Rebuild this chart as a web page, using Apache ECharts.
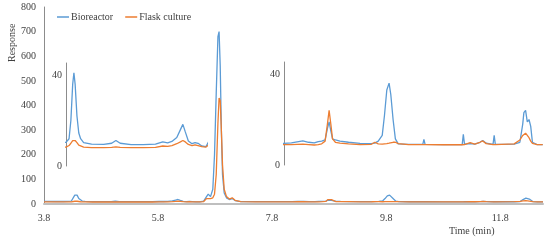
<!DOCTYPE html>
<html>
<head>
<meta charset="utf-8">
<script src="https://cdn.jsdelivr.net/npm/echarts@6/dist/echarts.min.js"></script>
<style>html,body{margin:0;padding:0;background:#fff}#c{width:550px;height:240px}</style>
</head>
<body>
<div id="c"></div>
<script>
// Retention time (min)
const time = [3.80,4.00,4.15,4.23,4.28,4.31,4.34,4.36,4.38,4.41,4.44,4.47,4.52,4.65,4.85,4.98,5.05,5.12,5.30,5.50,5.70,5.82,5.90,5.97,6.05,6.11,6.15,6.19,6.24,6.30,6.35,6.40,6.46,6.53,
  6.60,6.65,6.68,6.72,6.76,6.79,6.82,6.85,6.87,6.89,6.91,6.93,6.96,7.00,7.05,7.10,7.15,7.25,7.50,
  8.02,8.15,8.25,8.35,8.45,8.55,8.62,8.68,8.74,8.78,8.81,8.84,8.87,8.92,9.00,9.15,9.35,9.55,9.61,9.67,9.74,9.78,9.82,9.86,9.89,9.93,9.97,10.02,
  10.20,10.45,10.47,10.49,10.80,11.14,11.16,11.18,11.28,11.36,11.45,11.50,11.56,11.68,11.70,11.72,12.05,12.15,12.20,12.22,12.25,12.28,12.31,12.34,12.37,12.45,12.55];
// Bioreactor response
const bioreactor = [10.5,10.2,10.2,10.4,12,20,36,41,36,22,14.5,12,10.3,9.6,9.5,10,11.2,10,9.4,9.4,9.6,10.6,10.2,10.8,12.5,16,18.3,15,11,9.8,10.3,10,8.8,8.5,
  12,30,40,30,60,200,450,680,700,560,300,120,45,25,18,22,14,10,9.5,
  9.5,9.7,10.2,10.6,10.0,9.7,10.3,10.5,11,16,19,15,11.5,11,10.5,10,9.5,9.4,9.6,10.5,13,22,33,36,31,20,11.5,9.3,
  9.1,9.1,11.3,9.1,9.0,9.0,13.5,9.2,9.4,9.2,10,10.8,9.6,9.1,13,9.1,9.2,10,18,23,24,19,20,17,10,9.0,9.0];
// Flask culture response
const flask = [8.5,8.4,8.3,8.3,9,10,11.2,11.5,11.2,10.3,9.2,8.6,8.3,8.1,8.1,8.2,8.4,8.2,8.1,8.1,8.2,8.8,8.6,9.0,9.8,10.6,11.2,10.6,9.5,9.0,9.3,9.0,8.5,8.3,
  10,22,28,22,25,40,120,330,430,420,300,160,60,30,20,25,15,9.5,9,
  9.0,9.0,9.1,9.2,9.0,8.8,9.0,9.3,10.5,18,24,18,11.5,10,9.6,9.3,9.0,9.1,10,9.3,9.2,9.3,9.4,9.6,9.8,10,10,9.4,
  9.0,9.0,9.0,9.0,8.9,8.9,9.0,9.0,9.8,9.2,10,10.6,9.4,9.0,9.0,9.0,9.3,11,13,13.5,14,13.5,12,10.5,9.5,9.0,9.0];
const xTicks = [3.8,5.8,7.8,9.8,11.8];
const yTicks = [0,100,200,300,400,500,600,700,800];
const insetTicks = [0,40];

const pairs = a => time.map((t,i)=>[t,a[i]]);
const BLUE = '#5b9bd5', ORANGE = '#ed7d31';
const FONT = '"Liberation Serif", "Times New Roman", serif';
const TXT = '#404040';

function ser(name, data, color, idx){
  return {type:'line', name, data, xAxisIndex:idx, yAxisIndex:idx, showSymbol:false, symbol:'none',
    lineStyle:{width:1.3, color}, itemStyle:{color}, animation:false, z: name==='Flask culture'?3:2};
}
function insetY(idx){
  return {gridIndex:idx, type:'value', min:0, max:45.3, interval:40,
    axisLine:{show:true, lineStyle:{color:'#8c8c8c', width:1}}, axisTick:{show:false}, splitLine:{show:false},
    axisLabel:{margin:4, fontFamily:FONT, fontSize:10, color:TXT, formatter:v=>insetTicks.includes(v)?String(v):''}};
}
function insetX(idx,min,max){
  return {gridIndex:idx, type:'value', min, max, show:false, splitLine:{show:false}};
}

const chart = echarts.init(document.getElementById('c'), null, {renderer:'canvas'});
chart.setOption({
  animation:false,
  grid:[
    {left:44, right:7, top:7, bottom:36},
    {left:66, width:140, top:63, height:103},
    {left:284, width:257, top:62, height:103}
  ],
  legend:{data:['Bioreactor','Flask culture'], left:57, top:12, padding:0, icon:'rect', itemWidth:12, itemHeight:1.5, itemGap:12,
    textStyle:{fontFamily:FONT, fontSize:10, color:TXT, padding:[0,0,0,-3]}},
  xAxis:[
    {gridIndex:0, type:'value', min:3.8, max:12.55, interval:2,
      axisLine:{show:true, lineStyle:{color:'#bfbfbf', width:2}}, axisTick:{show:false}, splitLine:{show:false},
      axisLabel:{margin:9, fontFamily:FONT, fontSize:10, color:TXT, showMaxLabel:false,
        formatter:v=>{const m=xTicks.find(t=>Math.abs(t-v)<1e-6);return m===undefined?'':m.toFixed(1);}}},
    insetX(1,4.23,6.53),
    insetX(2,8.02,12.52)
  ],
  yAxis:[
    {gridIndex:0, type:'value', min:0, max:800, interval:100,
      axisLine:{show:true, lineStyle:{color:'#8c8c8c', width:1}}, axisTick:{show:false}, splitLine:{show:false},
      axisLabel:{margin:8, fontFamily:FONT, fontSize:10, color:TXT, formatter:v=>yTicks.includes(v)?String(v):''}},
    insetY(1), insetY(2)
  ],
  series:[
    ser('Bioreactor', pairs(bioreactor), BLUE, 0),
    ser('Flask culture', pairs(flask), ORANGE, 0),
    ser('Bioreactor', pairs(bioreactor), BLUE, 1),
    ser('Flask culture', pairs(flask), ORANGE, 1),
    ser('Bioreactor', pairs(bioreactor), BLUE, 2),
    ser('Flask culture', pairs(flask), ORANGE, 2)
  ],
  graphic:[
    {type:'text', left:449, top:226, style:{text:'Time (min)', font:'10px '+FONT, fill:TXT}},
    {type:'text', x:7, y:62, rotation:Math.PI/2, style:{text:'Response', font:'10px '+FONT, fill:TXT}}
  ]
});
</script>
</body>
</html>
